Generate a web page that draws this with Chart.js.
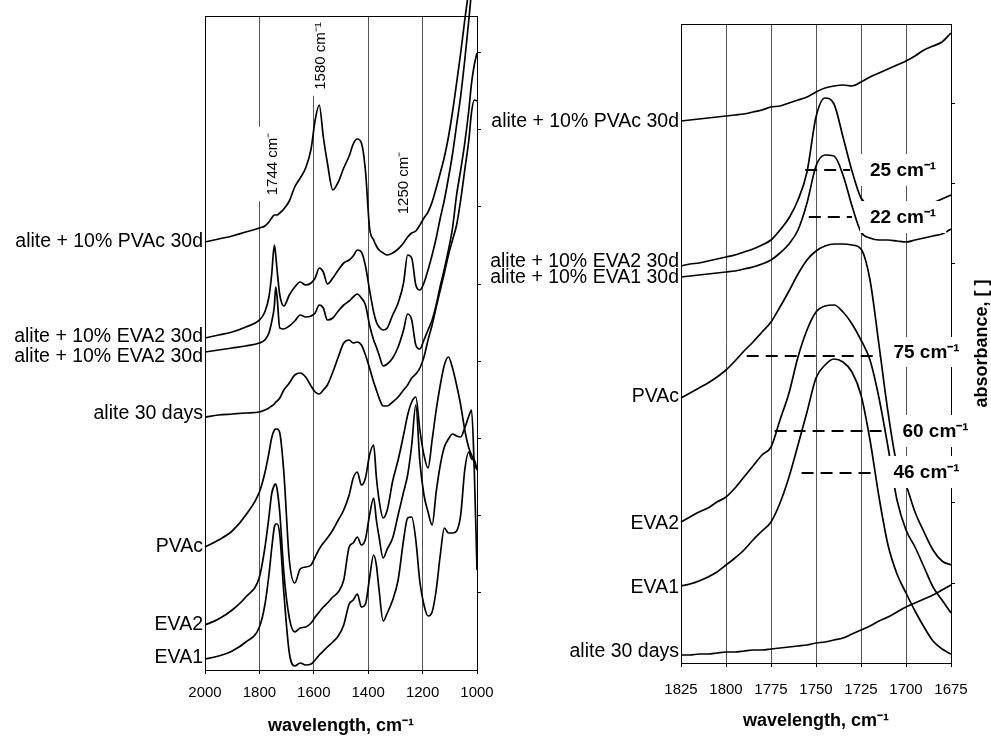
<!DOCTYPE html>
<html>
<head>
<meta charset="utf-8">
<script src="https://cdn.jsdelivr.net/npm/chart.js@4.4.1/dist/chart.umd.min.js"></script>
<style>
  html, body { margin: 0; padding: 0; background: #fff; }
  #wrap { position: relative; width: 991px; height: 737px; overflow: hidden; }
  .box { position: absolute; top: 0; height: 737px; }
  #leftBox { left: 0; width: 510px; }
  #rightBox { left: 480px; width: 511px; }
</style>
</head>
<body>
<div id="wrap">
  <div class="box" id="leftBox"><canvas id="leftChart"></canvas></div>
  <div class="box" id="rightBox"><canvas id="rightChart"></canvas></div>
</div>
<script>
Chart.defaults.font.family = '"Liberation Sans", Arial, Helvetica, sans-serif';
Chart.defaults.color = '#000';

// left panel: 2000-1000 cm-1
const WN_LEFT = [2000, 1950, 1900, 1850, 1800, 1780, 1765, 1755, 1745, 1740, 1735, 1725, 1710, 1690, 1670, 1650, 1630, 1610, 1595, 1580,
  1565, 1550, 1530, 1510, 1490, 1470, 1455, 1440, 1425, 1410, 1395, 1380, 1370, 1360, 1345, 1330, 1310, 1290, 1270, 1255,
  1240, 1225, 1210, 1195, 1180, 1165, 1150, 1135, 1120, 1105, 1090, 1075, 1060, 1045, 1030, 1020, 1010, 1000];

const L_PVAC_30D = [4.28, 4.31, 4.34, 4.38, 4.42, 4.44, 4.48, 4.52, 4.55, 4.55, 4.55, 4.57, 4.61, 4.69, 4.83, 4.92, 5.02, 5.21, 5.50, 5.65,
  5.33, 5.07, 4.80, 4.88, 5.02, 5.14, 5.26, 5.31, 5.27, 4.99, 4.42, 4.30, 4.24, 4.20, 4.17, 4.15, 4.17, 4.21, 4.27, 4.33,
  4.37, 4.39, 4.45, 4.52, 4.58, 4.68, 4.82, 4.97, 5.13, 5.33, 5.58, 5.87, 6.17, 6.50, 6.83, 7.20, 7.50, 7.80];
const L_EVA2_30D = [3.32, 3.35, 3.38, 3.43, 3.50, 3.58, 3.73, 3.95, 4.25, 4.15, 4.00, 3.75, 3.64, 3.75, 3.83, 3.88, 3.85, 3.87, 3.92, 4.02,
  3.98, 3.86, 3.92, 4.00, 4.07, 4.10, 4.14, 4.20, 4.18, 4.04, 3.80, 3.58, 3.48, 3.43, 3.40, 3.42, 3.55, 3.67, 3.87, 4.15,
  4.12, 3.85, 3.80, 3.87, 4.00, 4.15, 4.32, 4.52, 4.70, 4.92, 5.16, 5.45, 5.74, 6.10, 6.50, 6.80, 7.10, 7.40];
const L_EVA2_30D_2 = [3.18, 3.20, 3.22, 3.24, 3.27, 3.30, 3.37, 3.48, 3.64, 3.83, 3.73, 3.42, 3.41, 3.44, 3.49, 3.55, 3.53, 3.54, 3.57, 3.65,
  3.62, 3.50, 3.52, 3.59, 3.65, 3.69, 3.73, 3.76, 3.72, 3.65, 3.45, 3.30, 3.23, 3.15, 3.04, 3.06, 3.12, 3.23, 3.40, 3.56,
  3.50, 3.25, 3.21, 3.30, 3.40, 3.50, 3.65, 3.84, 4.01, 4.20, 4.42, 4.75, 5.00, 5.27, 5.60, 5.87, 6.05, 6.17];
const L_ALITE_30D = [2.53, 2.55, 2.56, 2.57, 2.58, 2.60, 2.62, 2.64, 2.66, 2.68, 2.69, 2.72, 2.80, 2.87, 2.95, 2.97, 2.93, 2.84, 2.78, 2.76,
  2.80, 2.85, 2.98, 3.13, 3.27, 3.30, 3.27, 3.28, 3.25, 3.15, 3.02, 2.88, 2.80, 2.72, 2.64, 2.64, 2.68, 2.73, 2.80, 2.85,
  2.92, 2.96, 3.02, 3.13, 3.30, 3.45, 3.63, 3.80, 3.97, 4.15, 4.30, 4.45, 4.70, 5.00, 5.30, 5.58, 5.70, 5.69];
const L_PVAC = [1.23, 1.30, 1.39, 1.55, 1.78, 1.97, 2.17, 2.32, 2.40, 2.41, 2.41, 2.37, 1.97, 1.10, 0.87, 1.01, 1.03, 1.05, 1.13, 1.21,
  1.27, 1.32, 1.40, 1.50, 1.60, 1.75, 1.92, 1.98, 1.85, 1.92, 2.15, 2.25, 1.93, 1.70, 1.52, 1.60, 1.89, 2.10, 2.35, 2.55,
  2.68, 2.73, 2.40, 2.15, 2.02, 2.30, 2.60, 2.85, 3.05, 3.13, 3.02, 2.85, 2.65, 2.40, 2.22, 2.15, 2.08, 2.00];
const L_EVA2 = [0.45, 0.51, 0.60, 0.73, 0.93, 1.22, 1.53, 1.76, 1.85, 1.86, 1.81, 1.57, 0.97, 0.52, 0.38, 0.42, 0.43, 0.47, 0.53, 0.58,
  0.63, 0.67, 0.73, 0.78, 0.90, 1.23, 1.27, 1.33, 1.25, 1.31, 1.55, 1.72, 1.50, 1.33, 1.12, 1.21, 1.32, 1.55, 1.78, 1.95,
  2.25, 2.65, 2.08, 1.75, 1.58, 1.45, 1.78, 2.05, 2.23, 2.31, 2.36, 2.34, 2.33, 2.42, 2.54, 2.60, 2.00, 1.00];
const L_EVA1 = [0.11, 0.14, 0.19, 0.28, 0.43, 0.65, 0.95, 1.21, 1.43, 1.46, 1.46, 1.35, 0.77, 0.17, 0.04, 0.07, 0.05, 0.06, 0.10, 0.15,
  0.19, 0.23, 0.28, 0.34, 0.45, 0.66, 0.70, 0.76, 0.63, 0.66, 0.92, 1.15, 1.05, 0.80, 0.49, 0.57, 0.70, 0.90, 1.30, 1.52,
  1.53, 1.30, 0.88, 0.65, 0.54, 0.58, 0.80, 1.15, 1.42, 1.37, 1.37, 1.39, 1.55, 2.00, 2.18, 2.11, 2.10, 2.00];

const NAMES_LEFT = ['alite + 10% PVAc 30d', 'alite + 10% EVA2 30d', 'alite + 10% EVA2 30d', 'alite 30 days', 'PVAc', 'EVA2', 'EVA1'];
const NAME_AT_LEFT = [4.28, 3.33, 3.13, 2.56, 1.23, 0.45, 0.12];
const X_TICKS_LEFT = [2000, 1800, 1600, 1400, 1200, 1000];

// right panel: 1825-1675 cm-1
const WN_RIGHT = [1825, 1820, 1815, 1810, 1805, 1800, 1795, 1790, 1785, 1780, 1775, 1770, 1765, 1760, 1755, 1750,
  1745, 1740, 1735, 1730, 1725, 1720, 1715, 1710, 1705, 1700, 1695, 1690, 1685, 1680, 1675];

const R_PVAC_30D = [5.42, 5.43, 5.44, 5.45, 5.46, 5.47, 5.48, 5.49, 5.51, 5.53, 5.56, 5.57, 5.60, 5.63, 5.66, 5.71,
  5.75, 5.77, 5.78, 5.77, 5.81, 5.86, 5.90, 5.94, 5.98, 6.02, 6.07, 6.13, 6.17, 6.21, 6.30];
const R_EVA2_30D = [3.97, 3.99, 4.00, 4.02, 4.04, 4.06, 4.08, 4.11, 4.14, 4.18, 4.23, 4.33, 4.45, 4.63, 4.91, 5.46,
  5.65, 5.59, 5.26, 4.92, 4.65, 4.58, 4.55, 4.54, 4.54, 4.54, 4.55, 4.57, 4.60, 4.64, 4.68];
const R_EVA1_30D = [3.86, 3.87, 3.88, 3.89, 3.90, 3.91, 3.92, 3.94, 3.96, 3.99, 4.03, 4.10, 4.19, 4.33, 4.60, 4.97,
  5.08, 5.07, 4.88, 4.57, 4.31, 4.25, 4.23, 4.23, 4.22, 4.21, 4.23, 4.25, 4.27, 4.29, 4.34];
const R_PVAC = [2.65, 2.70, 2.75, 2.80, 2.86, 2.93, 3.02, 3.12, 3.21, 3.31, 3.41, 3.56, 3.72, 3.89, 4.03, 4.12,
  4.17, 4.19, 4.19, 4.18, 4.14, 3.83, 3.18, 2.51, 1.98, 1.78, 1.51, 1.31, 1.13, 1.02, 0.98];
const R_EVA2 = [1.41, 1.46, 1.51, 1.55, 1.61, 1.66, 1.75, 1.86, 1.97, 2.08, 2.16, 2.43, 2.70, 3.06, 3.33, 3.51,
  3.57, 3.58, 3.51, 3.39, 3.23, 3.03, 2.65, 2.16, 1.63, 1.33, 1.16, 0.96, 0.76, 0.63, 0.50];
const R_EVA1 = [0.77, 0.79, 0.82, 0.86, 0.91, 0.98, 1.05, 1.13, 1.23, 1.32, 1.41, 1.60, 1.86, 2.18, 2.51, 2.85,
  2.98, 3.04, 3.01, 2.91, 2.68, 2.23, 1.66, 1.18, 0.89, 0.70, 0.52, 0.36, 0.22, 0.14, 0.09];
const R_ALITE_30D = [0.08, 0.08, 0.09, 0.09, 0.10, 0.11, 0.11, 0.12, 0.13, 0.13, 0.14, 0.15, 0.16, 0.17, 0.18, 0.20,
  0.21, 0.23, 0.25, 0.29, 0.33, 0.37, 0.42, 0.46, 0.51, 0.56, 0.60, 0.64, 0.68, 0.73, 0.78];

const NAMES_RIGHT = ['alite + 10% PVAc 30d', 'alite + 10% EVA2 30d', 'alite + 10% EVA1 30d', 'PVAc', 'EVA2', 'EVA1', 'alite 30 days'];
const NAME_AT_RIGHT = [5.41, 4.01, 3.85, 2.66, 1.39, 0.75, 0.11];
const X_TICKS_RIGHT = [1825, 1800, 1775, 1750, 1725, 1700, 1675];

// half-height widths
const FWHM_TEXT = ['25 cm\u207B\u00B9', '22 cm\u207B\u00B9', '75 cm\u207B\u00B9', '60 cm\u207B\u00B9', '46 cm\u207B\u00B9'];
const FWHM_LEVEL = [4.93, 4.46, 3.07, 2.32, 1.90];
const FWHM_FROM = [1756, 1754, 1788.5, 1773, 1758];
const FWHM_TO = [1731, 1730, 1714, 1713, 1718];

function pts(wn, ys) {
  return ys.map(function (v, i) { return {x: wn[i], y: v}; });
}

function curve(wn, ys) {
  return {
    data: pts(wn, ys),
    borderColor: '#000',
    borderWidth: 1.7,
    pointRadius: 0,
    fill: false,
    cubicInterpolationMode: 'monotone',
    clip: false
  };
}

const notes = {
  id: 'notes',
  afterDraw(chart, args, opts) {
    const ctx = chart.ctx, a = chart.chartArea;
    const x = chart.scales.x, y = chart.scales.y;
    ctx.save();
    (opts.items || []).forEach(function (n) {
      ctx.font = n.font;
      const w = ctx.measureText(n.text).width;
      ctx.save();
      ctx.translate(x.getPixelForValue(n.x), y.getPixelForValue(n.y));
      if (n.vertical) ctx.rotate(-Math.PI / 2);
      const left = n.vertical ? -w / 2 : 0;
      ctx.fillStyle = '#fff';
      ctx.fillRect(left - n.padX, -n.padY, w + 2 * n.padX, 2 * n.padY);
      ctx.fillStyle = '#000';
      ctx.textAlign = 'left';
      ctx.textBaseline = 'middle';
      ctx.fillText(n.text, left, 1);
      ctx.restore();
    });
    // top edge of the frame
    ctx.strokeStyle = '#000';
    ctx.lineWidth = 1;
    ctx.beginPath();
    ctx.moveTo(a.left, Math.round(a.top) + 0.5);
    ctx.lineTo(a.right + 1, Math.round(a.top) + 0.5);
    ctx.stroke();
    if (opts.sideTitle) {
      ctx.save();
      ctx.translate(a.right + opts.sideTitle.offset, (a.top + a.bottom) / 2);
      ctx.rotate(-Math.PI / 2);
      ctx.font = opts.sideTitle.font;
      ctx.fillStyle = '#000';
      ctx.textAlign = 'center';
      ctx.textBaseline = 'middle';
      ctx.fillText(opts.sideTitle.text, 0, 0);
      ctx.restore();
    }
    ctx.restore();
  }
};

function panelOptions(cfg) {
  return {
    responsive: true,
    maintainAspectRatio: false,
    animation: false,
    events: [],
    layout: {padding: {top: cfg.top, left: 0, right: 0, bottom: 0}},
    plugins: {
      legend: {display: false},
      tooltip: {enabled: false},
      notes: {items: cfg.items, sideTitle: cfg.sideTitle}
    },
    scales: {
      x: {
        type: 'linear',
        reverse: true,
        min: cfg.xMin,
        max: cfg.xMax,
        afterBuildTicks: function (s) { s.ticks = cfg.xTicks.map(function (v) { return {value: v}; }); },
        ticks: {
          font: {size: 15}, padding: cfg.tickPad, maxRotation: 0, autoSkip: false, color: '#000',
          callback: function (v) { return String(v); }
        },
        grid: {color: '#555', lineWidth: 1, tickLength: 4, tickColor: '#000'},
        border: {color: '#000', width: 1},
        title: {display: true, text: 'wavelength, cm\u207B\u00B9', font: {size: 18, weight: 'bold'}, color: '#000',
          padding: {top: 0, bottom: cfg.titlePad}},
        afterFit: function (s) { s.height = cfg.xHeight; }
      },
      y: {
        type: 'linear',
        position: 'left',
        min: 0,
        max: cfg.yMax,
        afterBuildTicks: function (s) { s.ticks = cfg.nameAt.map(function (v) { return {value: v}; }); },
        ticks: {
          font: {size: 19.5},
          padding: 2,
          autoSkip: false,
          color: '#000',
          callback: function (v, i) { return cfg.names[i]; }
        },
        grid: {display: false, drawTicks: false},
        border: {color: '#000', width: 1},
        afterFit: function (s) { s.width = cfg.leftWidth; }
      },
      y2: {
        type: 'linear',
        position: 'right',
        min: 0,
        max: cfg.yMax,
        ticks: {display: false, stepSize: cfg.yStep},
        afterBuildTicks: function (s) {
          s.ticks = s.ticks.filter(function (t) { return t.value > 0.1 && t.value < cfg.yMax - 0.2; });
        },
        grid: {drawOnChartArea: false, drawTicks: true, tickLength: 4, color: '#000'},
        border: {color: '#000', width: 1},
        afterFit: function (s) { s.width = cfg.rightWidth; }
      }
    }
  };
}

const VFONT = '15px "Liberation Sans", Arial, sans-serif';
const BFONT = 'bold 19px "Liberation Sans", Arial, sans-serif';

new Chart(document.getElementById('leftChart'), {
  type: 'line',
  data: {
    datasets: [
      curve(WN_LEFT, L_PVAC_30D),
      curve(WN_LEFT, L_EVA2_30D),
      curve(WN_LEFT, L_EVA2_30D_2),
      curve(WN_LEFT, L_ALITE_30D),
      curve(WN_LEFT, L_PVAC),
      curve(WN_LEFT, L_EVA2),
      curve(WN_LEFT, L_EVA1)
    ]
  },
  options: panelOptions({
    top: 16, xMin: 1000, xMax: 2000, xTicks: X_TICKS_LEFT, tickPad: 10, titlePad: 0, xHeight: 67,
    yMax: 6.54, yStep: 0.772, names: NAMES_LEFT, nameAt: NAME_AT_LEFT, leftWidth: 205, rightWidth: 33,
    items: [
      {text: '1744 cm\u207B', x: 1754, y: 5.06, vertical: true, font: VFONT, padX: 6, padY: 15},
      {text: '1580 cm\u207B\u00B9', x: 1576, y: 6.14, vertical: true, font: VFONT, padX: 6, padY: 15},
      {text: '1250 cm\u207B', x: 1272, y: 4.87, vertical: true, font: VFONT, padX: 6, padY: 15}
    ]
  }),
  plugins: [notes]
});

const rightSets = [
  curve(WN_RIGHT, R_PVAC_30D),
  curve(WN_RIGHT, R_EVA2_30D),
  curve(WN_RIGHT, R_EVA1_30D),
  curve(WN_RIGHT, R_PVAC),
  curve(WN_RIGHT, R_EVA2),
  curve(WN_RIGHT, R_EVA1),
  curve(WN_RIGHT, R_ALITE_30D)
];
FWHM_LEVEL.forEach(function (lvl, i) {
  rightSets.push({
    data: [{x: FWHM_FROM[i], y: lvl}, {x: FWHM_TO[i], y: lvl}],
    borderColor: '#000',
    borderWidth: 2,
    borderDash: [12, 7],
    pointRadius: 0,
    fill: false
  });
});

new Chart(document.getElementById('rightChart'), {
  type: 'line',
  data: {datasets: rightSets},
  options: panelOptions({
    top: 24, xMin: 1675, xMax: 1825, xTicks: X_TICKS_RIGHT, tickPad: 14, titlePad: 5, xHeight: 74,
    yMax: 6.39, yStep: 0.8, names: NAMES_RIGHT, nameAt: NAME_AT_RIGHT, leftWidth: 201, rightWidth: 40,
    items: [
      {text: FWHM_TEXT[0], x: 1720, y: 4.93, font: BFONT, padX: 10, padY: 16},
      {text: FWHM_TEXT[1], x: 1720, y: 4.46, font: BFONT, padX: 10, padY: 16},
      {text: FWHM_TEXT[2], x: 1707, y: 3.11, font: BFONT, padX: 8, padY: 15},
      {text: FWHM_TEXT[3], x: 1702, y: 2.32, font: BFONT, padX: 8, padY: 16},
      {text: FWHM_TEXT[4], x: 1707, y: 1.91, font: BFONT, padX: 8, padY: 16}
    ],
    sideTitle: {text: 'absorbance, [ ]', font: 'bold 18px "Liberation Sans", Arial, sans-serif', offset: 31}
  }),
  plugins: [notes]
});
</script>
</body>
</html>
